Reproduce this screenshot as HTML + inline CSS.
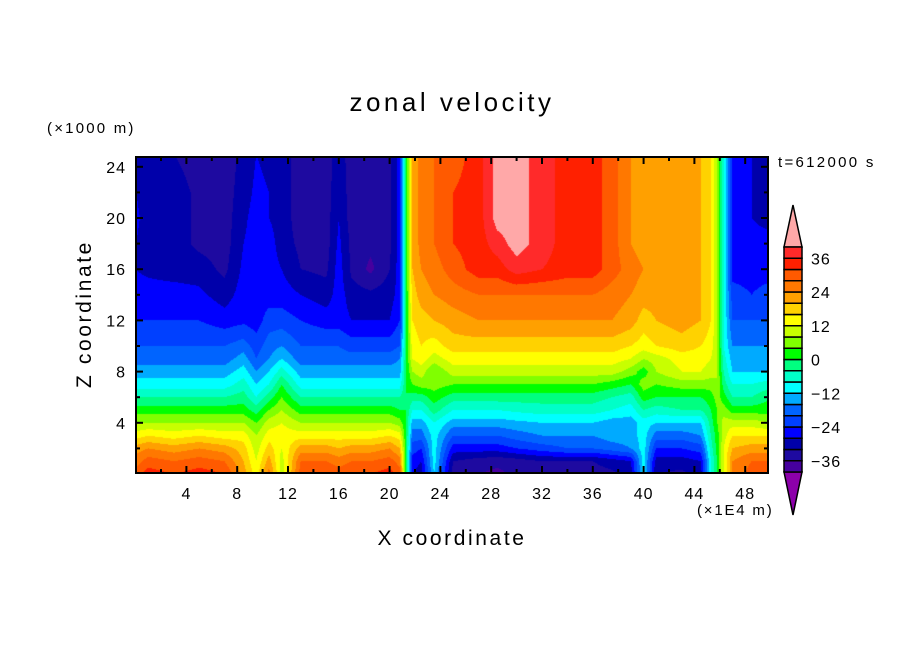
<!DOCTYPE html>
<html><head><meta charset="utf-8">
<style>
html,body{margin:0;padding:0;background:#fff;}
#wrap{position:relative;width:904px;height:654px;overflow:hidden;font-family:"Liberation Sans","DejaVu Sans",sans-serif;}
.t{position:absolute;white-space:nowrap;color:#000;}
</style></head>
<body>
<div id="wrap">
<div class="t" style="left:0;width:904px;text-align:center;top:87px;font-size:26px;letter-spacing:3.5px;">zonal velocity</div>
<div class="t" style="left:47px;top:120px;font-size:15px;letter-spacing:2.2px;">(×1000 m)</div>
<div class="t" style="left:778px;top:154px;font-size:15px;letter-spacing:2.3px;">t=612000 s</div>
<div class="t" style="left:697px;top:502px;font-size:15px;letter-spacing:1.8px;">(×1E4 m)</div>
<div class="t" style="left:0;width:904px;text-align:center;top:527px;font-size:21px;letter-spacing:2.6px;">X coordinate</div>
<div class="t" style="left:-15px;top:302px;width:200px;text-align:center;font-size:21px;letter-spacing:2.6px;transform:rotate(-90deg);">Z coordinate</div>
<canvas id="cv" width="632" height="316" style="position:absolute;left:136px;top:157px;"></canvas>
<svg id="sv" width="904" height="654" style="position:absolute;left:0;top:0;"></svg>
</div>
<script>
const levels=[-40,-36,-32,-28,-24,-20,-16,-12,-8,-4,0,4,8,12,16,20,24,28,32,36,40];
const levelColors=["#8c00aa","#46009e","#1e0aa0","#0000aa","#0000ff","#0040ff","#0064ff","#00aaff","#00ffff","#00ffc8","#00ff80","#00ff00","#80ff00","#c8ff00","#ffff00","#ffd200","#ffa000","#ff7800","#ff5a00","#ff2000","#ff2a2a","#ffa8a8"];
const xCoords=[0,1,3,5,7,8.5,9.5,10.5,11.5,13,15,16,17,18.5,20,20.8,21.3,21.8,22.5,23.5,25,27,28.5,30,32,34,36,37.5,39,40,41,43,44.5,45.3,45.8,46.3,47,48.5,50];
const zCoords=[0,1,2,3,4,5,6,7,8,9,10,12,14,16,18,20,22,25];
const u0=[30,34,32,34,32,22,14,26,10,30,32,30,32,32,34,30,0,-28,-30,-12,-34,-36,-37,-35,-34,-34,-34,-33,-30,-10,-32,-33,-30,-8,0,12,24,30,32];
const u1=[26,30,28,30,28,20,12,22,10,28,28,26,28,28,30,26,0,-26,-28,-10,-32,-34,-35,-34,-32,-32,-32,-30,-28,-10,-30,-30,-28,-8,0,12,24,28,28];
const u2=[22,24,22,24,22,18,10,18,12,22,22,20,22,22,24,20,0,-22,-24,-10,-26,-26,-26,-24,-22,-20,-20,-18,-16,-10,-24,-24,-22,-6,2,12,20,22,22];
const u3=[14,16,14,16,14,14,8,14,14,14,14,14,14,14,16,14,0,-18,-18,-10,-20,-20,-20,-18,-16,-16,-16,-14,-14,-10,-18,-18,-16,-4,2,10,16,16,16];
const u4=[8,8,8,8,8,8,4,10,12,8,8,8,8,8,8,6,0,-14,-14,-8,-14,-14,-14,-13,-12,-12,-12,-14,-14,-10,-12,-12,-12,-2,4,10,10,10,8];
const u5=[2,2,2,2,2,2,-2,4,8,2,2,2,2,2,2,0,0,-8,-8,-2,-8,-8,-8,-7,-6,-6,-6,-8,-10,-4,-6,-4,-4,0,4,6,2,2,2];
const u6=[-4,-4,-4,-4,-4,-2,-8,-2,4,-4,-4,-4,-4,-4,-4,-4,0,-2,-2,2,-2,-2,-2,-2,-2,-2,-2,-4,-6,2,0,0,0,2,6,2,-4,-4,0];
const u7=[-10,-10,-10,-10,-10,-6,-12,-8,0,-10,-10,-10,-10,-10,-10,-10,0,4,6,6,4,4,4,4,4,4,4,2,0,6,4,6,6,6,8,-2,-8,-8,-6];
const u8=[-14,-14,-14,-14,-14,-10,-16,-12,-6,-14,-14,-14,-14,-14,-14,-14,0,8,10,4,10,10,10,10,10,10,10,10,6,2,8,12,12,10,8,-4,-12,-12,-12];
const u9=[-18,-18,-18,-18,-18,-14,-20,-16,-12,-18,-18,-18,-18,-18,-18,-16,0,12,14,10,14,14,14,14,14,14,14,14,12,8,10,14,14,12,8,-6,-14,-14,-14];
const u10=[-20,-20,-20,-20,-20,-18,-22,-18,-16,-20,-20,-20,-22,-22,-22,-20,0,14,16,14,18,18,18,18,18,18,18,18,16,14,16,18,16,14,8,-8,-16,-16,-16];
const u12=[-24,-24,-24,-24,-26,-25,-26,-22,-22,-24,-26,-26,-28,-28,-28,-24,0,16,18,20,22,24,24,24,24,24,24,24,22,18,20,22,20,16,8,-8,-20,-20,-20];
const u14=[-26,-26,-26,-27,-30,-26,-26,-26,-26,-28,-30,-26,-30,-31,-30,-26,0,18,22,24,26,28,28,28,28,28,28,26,24,22,22,22,20,16,8,-8,-22,-24,-22];
const u16=[-28,-29,-30,-30,-33,-27,-26,-26,-28,-32,-33,-26,-33,-37,-32,-26,0,20,24,26,30,34,34,38,36,34,34,30,26,24,22,22,20,16,8,-8,-26,-26,-26];
const u18=[-28,-30,-30,-33,-34,-28,-26,-26,-30,-33,-34,-27,-33,-35,-33,-26,0,20,26,28,32,34,38,42,38,34,34,30,24,22,22,22,20,16,8,-8,-26,-26,-26];
const u20=[-27,-30,-30,-33,-34,-29,-26,-28,-30,-34,-34,-28,-34,-34,-33,-26,0,20,26,28,32,34,42,42,38,34,34,30,24,22,22,22,20,16,8,-8,-26,-28,-30];
const u22=[-28,-30,-30,-33,-34,-30,-27,-28,-30,-34,-34,-29,-34,-34,-33,-26,0,20,26,28,32,34,42,42,38,34,34,30,24,22,22,22,20,16,8,-8,-26,-28,-31];
const u25=[-30,-30,-32,-34,-34,-31,-28,-29,-30,-34,-34,-30,-34,-34,-33,-26,0,20,26,28,30,34,42,42,38,34,34,30,24,22,22,22,20,16,8,-8,-26,-28,-31];
const field=[u0,u1,u2,u3,u4,u5,u6,u7,u8,u9,u10,u12,u14,u16,u18,u20,u22,u25];
const xTicks=[4,8,12,16,20,24,28,32,36,40,44,48];
const yTicks=[4,8,12,16,20,24];
const cbLabels=[36,24,12,0,-12,-24,-36];

const X0=135.6, XS=12.7, Z0=474, ZS=12.8;
const PL=136,PT=157,PR=768,PB=473;
function sx(x){return X0+x*XS;}
function sy(z){return Z0-z*ZS;}
function findIdx(arr,v){let i=0;while(i<arr.length-2&&v>arr[i+1])i++;return i;}
function sample(x,z){
  const i=findIdx(xCoords,x), j=findIdx(zCoords,z);
  let tx=(x-xCoords[i])/(xCoords[i+1]-xCoords[i]); tx=Math.max(0,Math.min(1,tx));
  let tz=(z-zCoords[j])/(zCoords[j+1]-zCoords[j]); tz=Math.max(0,Math.min(1,tz));
  const a=field[j][i],b=field[j][i+1],c=field[j+1][i],d=field[j+1][i+1];
  return (a*(1-tx)+b*tx)*(1-tz)+(c*(1-tx)+d*tx)*tz;
}
function hex(c){return [parseInt(c.substr(1,2),16),parseInt(c.substr(3,2),16),parseInt(c.substr(5,2),16)];}
const cv=document.getElementById('cv');const ctx=cv.getContext('2d');
const img=ctx.createImageData(cv.width,cv.height);
const rgb=levelColors.map(hex);
for(let py=0;py<cv.height;py++){
  const z=(Z0-(PT+py+0.5))/ZS;
  for(let px=0;px<cv.width;px++){
    const x=(PL+px+0.5-X0)/XS;
    const v=sample(x,z);
    let k=0; if(v>=levels[0]){k=levels.length;for(let m=1;m<levels.length;m++){if(v<levels[m]){k=m;break;}}}
    const c=rgb[k];const o=(py*cv.width+px)*4;
    img.data[o]=c[0];img.data[o+1]=c[1];img.data[o+2]=c[2];img.data[o+3]=255;
  }
}
ctx.putImageData(img,0,0);

const NS='http://www.w3.org/2000/svg';
const sv=document.getElementById('sv');
function mk(tag,attrs,parent){const e=document.createElementNS(NS,tag);for(const k in attrs)e.setAttribute(k,attrs[k]);(parent||sv).appendChild(e);return e;}
const frame=mk('rect',{x:PL,y:PT,width:PR-PL,height:PB-PT,fill:'none',stroke:'#000','stroke-width':2});


for(let x=2;x<50;x+=2){
  const major=x%4===0, L=major?7:4;
  const t1=mk('line',{x1:sx(x),x2:sx(x),y1:PB,y2:PB-L,stroke:'#000','stroke-width':2});
  
  
  const t2=mk('line',{x1:sx(x),x2:sx(x),y1:PT,y2:PT+L,stroke:'#000','stroke-width':2});
  
  
}
for(let z=2;z<25;z+=2){
  const major=z%4===0, L=major?7:4;
  const t1=mk('line',{x1:PL,x2:PL+L,y1:sy(z),y2:sy(z),stroke:'#000','stroke-width':2});
  
  
  const t2=mk('line',{x1:PR,x2:PR-L,y1:sy(z),y2:sy(z),stroke:'#000','stroke-width':2});
  
  
}
xTicks.forEach(v=>{
  const t=mk('text',{x:sx(v),y:499,'text-anchor':'middle','font-size':16,'letter-spacing':1,'font-family':'Liberation Sans, sans-serif'});
  t.textContent=v;
  
  
});
yTicks.forEach(v=>{
  const t=mk('text',{x:126,y:sy(v)+6,'text-anchor':'end','font-size':16,'letter-spacing':1,'font-family':'Liberation Sans, sans-serif'});
  t.textContent=v;
  
  
});
const CBX=784,CBW=18,CBT=247,CBB=472;
const nBox=levels.length-1, bh=(CBB-CBT)/nBox;
function cby(v){return CBB-(v-levels[0])/(levels[levels.length-1]-levels[0])*(CBB-CBT);}
const upTri=mk('polygon',{points:`${CBX},${CBT} ${CBX+CBW},${CBT} ${CBX+CBW/2},205`,fill:levelColors[levelColors.length-1],stroke:'#000','stroke-width':1.5});


const dnTri=mk('polygon',{points:`${CBX},${CBB} ${CBX+CBW},${CBB} ${CBX+CBW/2},515`,fill:levelColors[0],stroke:'#000','stroke-width':1.5});


for(let k=0;k<nBox;k++){
  const r=mk('rect',{x:CBX,y:cby(levels[k+1]),width:CBW,height:bh,fill:levelColors[k+1],stroke:'#000','stroke-width':1.5});
  
  
}
cbLabels.forEach(v=>{
  const t=mk('text',{x:811,y:cby(v)+6,'font-size':16,'letter-spacing':1,'font-family':'Liberation Sans, sans-serif'});
  t.textContent=(v<0?'\u2212'+(-v):String(v));
  
  
});
</script>
</body></html>
